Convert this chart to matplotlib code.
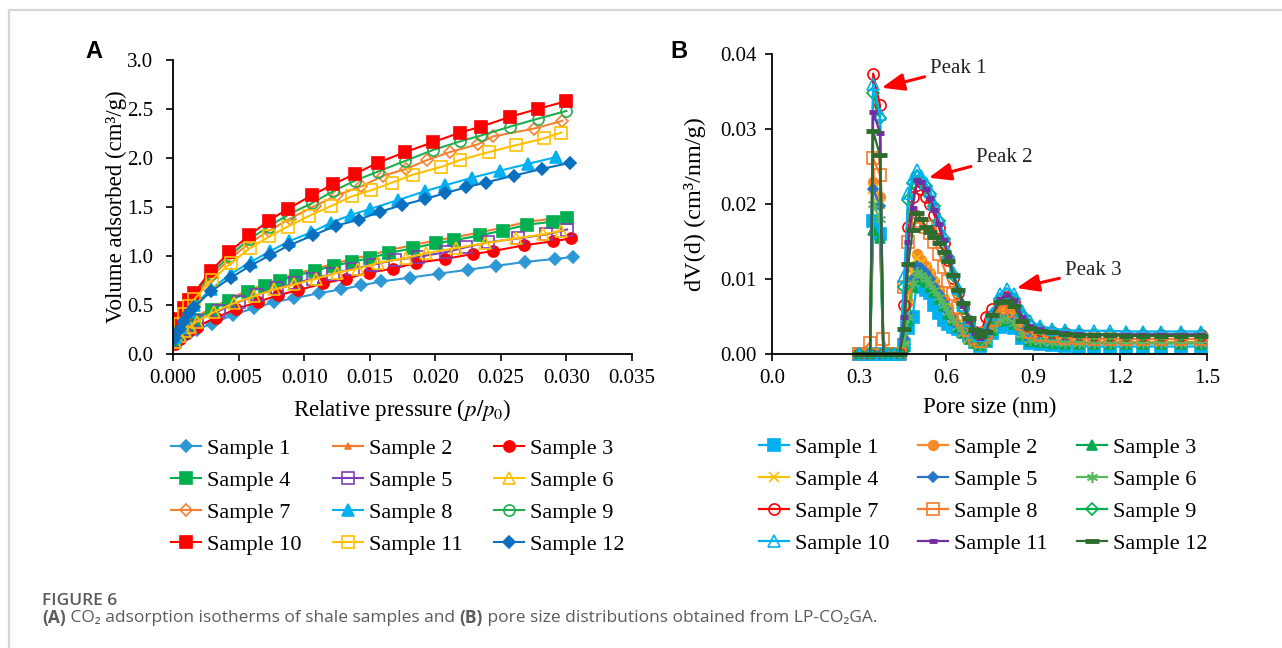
import numpy as np
import matplotlib
matplotlib.use("Agg")
import matplotlib.pyplot as plt
from matplotlib.lines import Line2D

# ---------------- (A) CO2 adsorption isotherms ----------------
p10 = [0.00015, 0.0005, 0.00086, 0.0012, 0.0016, 0.0029, 0.0043, 0.0058, 0.0073, 0.00875,
       0.0106, 0.0122, 0.0139, 0.0156, 0.0177, 0.0198, 0.0219, 0.0235, 0.0257, 0.0278, 0.0300]
v10 = [0.245, 0.36, 0.47, 0.55, 0.62, 0.85, 1.04, 1.21, 1.36, 1.48,
       1.62, 1.73, 1.84, 1.95, 2.06, 2.16, 2.26, 2.32, 2.42, 2.50, 2.58]
v9 = [0.22, 0.34, 0.45, 0.53, 0.60, 0.82, 1.00, 1.17, 1.30, 1.42,
      1.54, 1.66, 1.77, 1.86, 1.97, 2.08, 2.17, 2.23, 2.32, 2.40, 2.48]
p7 = [0.00015, 0.0005, 0.00086, 0.0012, 0.0016, 0.0029, 0.00435, 0.0058, 0.00735, 0.0089,
      0.0108, 0.0125, 0.01435, 0.01605, 0.0178, 0.0194, 0.0211, 0.02325, 0.0244, 0.02753, 0.0297]
v7 = [0.21, 0.33, 0.43, 0.51, 0.58, 0.79, 0.97, 1.13, 1.26, 1.38,
      1.51, 1.62, 1.71, 1.82, 1.89, 1.98, 2.06, 2.14, 2.22, 2.30, 2.38]
p11 = [0.00015, 0.0005, 0.00086, 0.0012, 0.00163, 0.00298, 0.00443, 0.00588, 0.00735, 0.00875, 0.0104,
       0.01206, 0.01364, 0.01511, 0.01672, 0.01829, 0.02046, 0.0219, 0.02407, 0.02613, 0.0283, 0.02962]
v11 = [0.20, 0.31, 0.41, 0.49, 0.56, 0.76, 0.93, 1.08, 1.20, 1.30, 1.41,
       1.51, 1.61, 1.67, 1.75, 1.83, 1.91, 1.98, 2.06, 2.13, 2.20, 2.26]
p8 = [0.00015, 0.0005, 0.00086, 0.0012, 0.0016, 0.0029, 0.00443, 0.00595, 0.00743, 0.00883,
      0.01053, 0.01206, 0.01359, 0.01504, 0.01715, 0.01918, 0.02071, 0.02283, 0.02491, 0.02707, 0.02924]
v8 = [0.17, 0.28, 0.37, 0.44, 0.50, 0.66, 0.82, 0.94, 1.05, 1.15,
      1.24, 1.34, 1.42, 1.48, 1.57, 1.66, 1.72, 1.80, 1.87, 1.94, 2.01]
p12 = [0.00018, 0.0005, 0.00086, 0.0012, 0.00163, 0.0029, 0.00443, 0.00588, 0.00743, 0.00888, 0.01066,
       0.01244, 0.01417, 0.01575, 0.01748, 0.01918, 0.02071, 0.02231, 0.02384, 0.02598, 0.02817, 0.03025]
v12 = [0.16, 0.26, 0.34, 0.42, 0.48, 0.64, 0.78, 0.90, 1.01, 1.11, 1.21,
       1.31, 1.37, 1.45, 1.52, 1.58, 1.64, 1.70, 1.75, 1.82, 1.89, 1.95]
p4 = [0.00015, 0.0005, 0.00086, 0.0012, 0.0016, 0.00298, 0.0043, 0.0057, 0.00705, 0.00817, 0.00939, 0.01086,
      0.01224, 0.01366, 0.01504, 0.01646, 0.01829, 0.02005, 0.02142, 0.02338, 0.02516, 0.02702, 0.02898, 0.03005]
v4 = [0.13, 0.20, 0.25, 0.30, 0.35, 0.45, 0.54, 0.63, 0.69, 0.75, 0.80, 0.85,
      0.90, 0.94, 0.98, 1.03, 1.08, 1.13, 1.16, 1.21, 1.26, 1.32, 1.35, 1.39]
v2 = [0.14, 0.21, 0.27, 0.32, 0.37, 0.47, 0.56, 0.65, 0.71, 0.77, 0.82, 0.87,
      0.92, 0.97, 1.01, 1.06, 1.11, 1.16, 1.19, 1.24, 1.29, 1.35, 1.38, 1.42]
p5 = [0.00015, 0.0005, 0.0009, 0.0013, 0.0018, 0.0035, 0.0050, 0.0064, 0.0079, 0.0093, 0.0107,
      0.0122, 0.0137, 0.01524, 0.0169, 0.01867, 0.02084, 0.02237, 0.02402, 0.02631, 0.02847, 0.03005]
v5 = [0.13, 0.19, 0.24, 0.29, 0.34, 0.44, 0.53, 0.60, 0.67, 0.72, 0.77,
      0.82, 0.87, 0.91, 0.96, 0.99, 1.04, 1.09, 1.14, 1.18, 1.22, 1.27]
p6 = [0.00015, 0.0005, 0.0009, 0.0013, 0.0018, 0.00315, 0.00468, 0.0062, 0.00773, 0.00926,
      0.01092, 0.01252, 0.01409, 0.01562, 0.0178, 0.01931, 0.02155, 0.02377, 0.02613, 0.02822, 0.02962]
v6 = [0.12, 0.18, 0.23, 0.28, 0.33, 0.43, 0.52, 0.59, 0.66, 0.71,
      0.77, 0.83, 0.87, 0.93, 0.98, 1.03, 1.08, 1.13, 1.18, 1.22, 1.26]
p3 = [0.00015, 0.0005, 0.0009, 0.0013, 0.0018, 0.00328, 0.00481, 0.00646, 0.00799, 0.00951,
      0.01142, 0.01321, 0.01493, 0.01677, 0.01855, 0.02071, 0.02287, 0.0244, 0.02677, 0.02898, 0.03038]
v3 = [0.10, 0.15, 0.20, 0.24, 0.28, 0.37, 0.46, 0.53, 0.60, 0.65,
      0.72, 0.77, 0.83, 0.87, 0.93, 0.97, 1.02, 1.05, 1.11, 1.15, 1.18]
p1 = [0.00015, 0.0005, 0.0009, 0.0013, 0.0018, 0.003, 0.0046, 0.0062, 0.00773, 0.00926,
      0.01112, 0.01283, 0.01435, 0.01588, 0.01809, 0.02028, 0.02249, 0.02466, 0.02687, 0.02911, 0.0305]
v1 = [0.11, 0.14, 0.18, 0.21, 0.25, 0.31, 0.40, 0.47, 0.53, 0.57,
      0.62, 0.66, 0.70, 0.74, 0.78, 0.82, 0.86, 0.90, 0.94, 0.97, 0.99]

iso_p = [p1, p4, p3, p4, p5, p6, p7, p8, p10, p10, p11, p12]
iso_v = [v1, v2, v3, v4, v5, v6, v7, v8, v9, v10, v11, v12]
sample_names = ["Sample %d" % i for i in range(1, 13)]

# ---------------- (B) pore size distributions ----------------
pore = [0.300, 0.338, 0.349, 0.372, 0.384, 0.400, 0.420, 0.440, 0.456, 0.470, 0.485,
        0.500, 0.515, 0.530, 0.545, 0.560, 0.576, 0.592, 0.608, 0.625, 0.642, 0.660,
        0.680, 0.700, 0.718, 0.738, 0.760, 0.785, 0.810, 0.835, 0.862, 0.890, 0.925,
        0.965, 1.010, 1.060, 1.110, 1.165, 1.220, 1.280, 1.340, 1.410, 1.480]
d1 = [0, 0, .0178, .0160, 0, 0, 0, 0, .0012, .0035, .0050,
      .0095, .0090, .0085, .0082, .0065, .0055, .0046, .0040, .0036, .0034, .0031,
      .0024, .0016, .0011, .0018, .0028, .0036, .0040, .0035, .0021, .0015, .0013,
      .0012, .0011, .0010, .0010, .0010, .0010, .0010, .0010, .0010, .0010]
d2 = [0, 0, .0230, .0210, 0, 0, 0, 0, .0020, .0070, .0115,
      .0133, .0126, .0118, .0108, .0098, .0086, .0074, .0062, .0050, .0040, .0030,
      .0022, .0016, .0013, .0022, .0042, .0056, .0058, .0052, .0034, .0024, .0020,
      .0018, .0017, .0016, .0016, .0016, .0016, .0016, .0016, .0016, .0016]
d3 = [0, 0, .0165, .0155, 0, 0, 0, 0, .0010, .0045, .0090,
      .0103, .0100, .0096, .0090, .0083, .0074, .0064, .0054, .0045, .0036, .0028,
      .0020, .0015, .0012, .0017, .0032, .0044, .0046, .0040, .0025, .0018, .0016,
      .0015, .0014, .0014, .0014, .0014, .0014, .0014, .0014, .0014, .0014]
d4 = [0, 0, .0220, .0200, 0, 0, 0, 0, .0025, .0075, .0110,
      .0128, .0122, .0114, .0105, .0095, .0084, .0072, .0060, .0049, .0039, .0030,
      .0022, .0016, .0013, .0020, .0038, .0052, .0054, .0048, .0030, .0022, .0019,
      .0018, .0017, .0016, .0016, .0016, .0016, .0016, .0016, .0016, .0016]
d5 = [0, 0, .0220, .0198, 0, 0, 0, 0, .0020, .0052, .0100,
      .0118, .0115, .0108, .0100, .0090, .0080, .0069, .0058, .0048, .0038, .0029,
      .0021, .0016, .0013, .0020, .0036, .0048, .0050, .0044, .0028, .0020, .0018,
      .0017, .0016, .0015, .0015, .0015, .0015, .0015, .0015, .0015, .0015]
d6 = [0, 0, .0200, .0180, 0, 0, 0, 0, .0015, .0050, .0095,
      .0110, .0106, .0100, .0093, .0085, .0076, .0066, .0056, .0046, .0037, .0028,
      .0021, .0016, .0012, .0018, .0034, .0046, .0048, .0042, .0026, .0019, .0017,
      .0016, .0015, .0015, .0015, .0015, .0015, .0015, .0015, .0015, .0015]
d7 = [0, 0, .0374, .0332, 0, 0, 0, 0, .0065, .0170, .0210,
      .0225, .0220, .0210, .0200, .0185, .0168, .0148, .0125, .0102, .0082, .0062,
      .0044, .0030, .0024, .0050, .0060, .0072, .0076, .0070, .0050, .0038, .0032,
      .0030, .0028, .0027, .0026, .0026, .0026, .0026, .0026, .0026, .0026]
d8 = [0, .0015, .0261, .0239, .0020, 0, 0, 0, .0090, .0150, .0183,
      .0178, .0174, .0170, .0162, .0150, .0134, .0116, .0098, .0080, .0062, .0046,
      .0032, .0022, .0017, .0028, .0046, .0062, .0065, .0058, .0040, .0030, .0026,
      .0024, .0022, .0021, .0020, .0020, .0020, .0020, .0020, .0020, .0020]
d9 = [0, 0, .0348, .0315, 0, 0, 0, 0, .0090, .0205, .0228,
      .0238, .0232, .0224, .0214, .0198, .0178, .0154, .0130, .0106, .0084, .0062,
      .0042, .0028, .0020, .0030, .0050, .0074, .0080, .0074, .0052, .0039, .0033,
      .0030, .0028, .0027, .0026, .0026, .0026, .0026, .0026, .0026, .0026]
d10 = [0, 0, .0360, .0320, 0, 0, 0, 0, .0104, .0215, .0235,
       .0245, .0238, .0228, .0218, .0200, .0180, .0158, .0135, .0110, .0088, .0066,
       .0046, .0030, .0026, .0034, .0054, .0080, .0087, .0080, .0058, .0044, .0037,
       .0034, .0032, .0031, .0031, .0031, .0030, .0030, .0030, .0030, .0030]
d11 = [0, 0, .0323, .0295, 0, 0, 0, 0, .0050, .0150, .0195,
       .0232, .0230, .0220, .0208, .0192, .0174, .0152, .0130, .0105, .0085, .0064,
       .0044, .0028, .0021, .0031, .0052, .0074, .0079, .0072, .0050, .0038, .0033,
       .0030, .0028, .0027, .0026, .0026, .0026, .0026, .0026, .0026, .0026]
d12 = [0, 0, .0297, .0265, 0, 0, 0, 0, .0033, .0120, .0165,
       .0188, .0180, .0170, .0163, .0156, .0148, .0136, .0124, .0106, .0086, .0068,
       .0048, .0032, .0024, .0030, .0052, .0070, .0071, .0064, .0044, .0035, .0031,
       .0029, .0027, .0026, .0025, .0025, .0024, .0024, .0024, .0024, .0024]
psd = [d1, d2, d3, d4, d5, d6, d7, d8, d9, d10, d11, d12]

# ---------------- figure layout (pixel helpers) ----------------
W, H, DPI = 1282, 648, 100


def fx(px):
    return px / W


def fy(py):
    return 1 - py / H


plt.rcParams['font.family'] = ['Liberation Serif', 'DejaVu Serif']
plt.rcParams['mathtext.fontset'] = 'stix'
plt.rcParams['axes.linewidth'] = 1.3
plt.rcParams['xtick.major.width'] = 1.2
plt.rcParams['ytick.major.width'] = 1.2

fig = plt.figure(figsize=(W / DPI, H / DPI), dpi=DPI)
fig.patch.set_facecolor('white')

# thin page frame
fig.add_artist(Line2D([fx(9), 1.0], [fy(10), fy(10)], color='#d6d6d6', lw=1.6))
fig.add_artist(Line2D([fx(9), fx(9)], [fy(10), 0.0], color='#d6d6d6', lw=1.6))

TICK_FS = 15
LABEL_FS = 16.5
LEG_FS = 16


def style_axes(ax, xpad, ypad):
    for s in ('top', 'right'):
        ax.spines[s].set_visible(False)
    ax.tick_params(direction='out', length=5, labelsize=TICK_FS, colors='black')
    ax.tick_params(axis='x', pad=xpad)
    ax.tick_params(axis='y', pad=ypad)


# ---- panel A ----
axA = fig.add_axes([fx(173), fy(354), fx(632) - fx(173), fy(60) - fy(354)])
styleA = [
    dict(marker='D', color='#2e98d6', mfc='#2e98d6', ms=6),
    dict(marker='^', color='#f47b2c', mfc='#f47b2c', ms=4),
    dict(marker='o', color='#ff0000', mfc='#ff0000', ms=8),
    dict(marker='s', color='#00b050', mfc='#00b050', ms=8),
    dict(marker='s', color='#7f3fb5', mfc='none', ms=8),
    dict(marker='^', color='#ffc000', mfc='none', ms=8),
    dict(marker='D', color='#f58232', mfc='none', ms=6),
    dict(marker='^', color='#00b0f0', mfc='#00b0f0', ms=8),
    dict(marker='o', color='#1fae4f', mfc='none', ms=8),
    dict(marker='s', color='#ff0000', mfc='#ff0000', ms=8),
    dict(marker='s', color='#ffc000', mfc='none', ms=8),
    dict(marker='D', color='#0b6fc0', mfc='#0b6fc0', ms=6),
]
handlesA = []
for p, v, st, name in zip(iso_p, iso_v, styleA, sample_names):
    h, = axA.plot(p, v, lw=1.5, mew=1.2, label=name, **st)
    handlesA.append(h)

axA.set_xlim(0, 0.035)
axA.set_ylim(0, 3.0)
axA.set_xticks(np.arange(0, 0.0351, 0.005))
axA.set_yticks(np.arange(0, 3.01, 0.5))
axA.xaxis.set_major_formatter(matplotlib.ticker.FormatStrFormatter('%.3f'))
axA.yaxis.set_major_formatter(matplotlib.ticker.FormatStrFormatter('%.1f'))
style_axes(axA, xpad=6, ypad=9)
axA.set_xlabel('Relative pressure ($p/p_0$)', fontsize=LABEL_FS, labelpad=6)
axA.set_ylabel('Volume adsorbed (cm³/g)', fontsize=LABEL_FS, labelpad=0)

# ---- panel B ----
axB = fig.add_axes([fx(772), fy(354), fx(1207) - fx(772), fy(54) - fy(354)])
styleB = [
    dict(marker='s', color='#00b0f0', mfc='#00b0f0', ms=8),
    dict(marker='o', color='#f7892b', mfc='#f7892b', ms=7),
    dict(marker='^', color='#00a84f', mfc='#00a84f', ms=7),
    dict(marker='x', color='#ffc000', mfc='#ffc000', ms=7),
    dict(marker='D', color='#2a74c8', mfc='#2a74c8', ms=5.5),
    dict(marker=(6, 2, 0), color='#5cb85c', mfc='#5cb85c', ms=8),
    dict(marker='o', color='#ff0000', mfc='none', ms=8),
    dict(marker='s', color='#f47b2c', mfc='none', ms=8),
    dict(marker='D', color='#00b050', mfc='none', ms=6.5),
    dict(marker='^', color='#00b0f0', mfc='none', ms=9),
    dict(marker='_', color='#7030a0', mfc='#7030a0', ms=6, mew=3.5),
    dict(marker='_', color='#2e6b2e', mfc='#2e6b2e', ms=10, mew=3.5),
]
handlesB = []
for d, st, name in zip(psd, styleB, sample_names):
    st = dict(st)
    mew = st.pop('mew', 1.2)
    h, = axB.plot(pore, d, lw=1.6, mew=mew, label=name, clip_on=False, **st)
    handlesB.append(h)

axB.set_xlim(0, 1.5)
axB.set_ylim(0, 0.04)
axB.set_xticks(np.arange(0, 1.51, 0.3))
axB.set_yticks(np.arange(0, 0.041, 0.01))
axB.xaxis.set_major_formatter(matplotlib.ticker.FormatStrFormatter('%.1f'))
axB.yaxis.set_major_formatter(matplotlib.ticker.FormatStrFormatter('%.2f'))
style_axes(axB, xpad=6, ypad=6)
axB.set_xlabel('Pore size (nm)', fontsize=LABEL_FS, labelpad=6)
axB.set_ylabel('dV(d) (cm³/nm/g)', fontsize=17.5, labelpad=10)

arrow_kw = dict(arrowstyle='-|>,head_length=0.9,head_width=0.35', color='#ff0000', lw=2.2,
                shrinkA=2, shrinkB=0)
peaks = [("Peak 1", (0.378, 0.0355), (0.545, 0.0381)),
         ("Peak 2", (0.540, 0.0235), (0.705, 0.0262)),
         ("Peak 3", (0.843, 0.0088), (1.010, 0.0111))]
for txt, tip, pos in peaks:
    axB.annotate(txt, xy=tip, xytext=pos, fontsize=TICK_FS, ha='left', va='center',
                 color='#222222', arrowprops=arrow_kw)

# ---- legends (row-wise ordering in 3 columns) ----
order = [0, 3, 6, 9, 1, 4, 7, 10, 2, 5, 8, 11]
legkw = dict(ncol=3, loc='upper left', frameon=False, fontsize=LEG_FS,
             handlelength=1.35, handletextpad=0.27, labelspacing=0.52,
             borderaxespad=0, borderpad=0, bbox_transform=fig.transFigure)
axA.legend([handlesA[i] for i in order], [sample_names[i] for i in order],
           bbox_to_anchor=(fx(171), fy(438)), columnspacing=1.42, **legkw)
axB.legend([handlesB[i] for i in order], [sample_names[i] for i in order],
           bbox_to_anchor=(fx(759), fy(437)), columnspacing=1.3, **legkw)

# ---- panel letters ----
fig.text(fx(85), fy(52), 'A', fontsize=17, fontweight='bold', family='Liberation Sans',
         ha='left', va='center')
fig.text(fx(670), fy(52), 'B', fontsize=17, fontweight='bold', family='Liberation Sans',
         ha='left', va='center')

# ---- caption ----
cap_color = '#5b5b5b'
cap_fam = ['Open Sans', 'DejaVu Sans']
fig.text(fx(42), fy(601), 'FIGURE 6', fontsize=12.5, fontweight='semibold', family=cap_fam,
         color=cap_color, ha='left', va='center')

renderer = fig.canvas.get_renderer()
pieces = [('(A)', 'bold'), (' CO₂ adsorption isotherms of shale samples and ', 'normal'),
          ('(B)', 'bold'), (' pore size distributions obtained from LP-CO₂GA.', 'normal')]
xcur = fx(42)
for s, wgt in pieces:
    t = fig.text(xcur, fy(618), s, fontsize=12.5, fontweight=wgt, family=cap_fam,
                 color=cap_color, ha='left', va='center')
    bb = t.get_window_extent(renderer=renderer)
    xcur += bb.width / W

fig.savefig('out.png', dpi=DPI, facecolor='white')
